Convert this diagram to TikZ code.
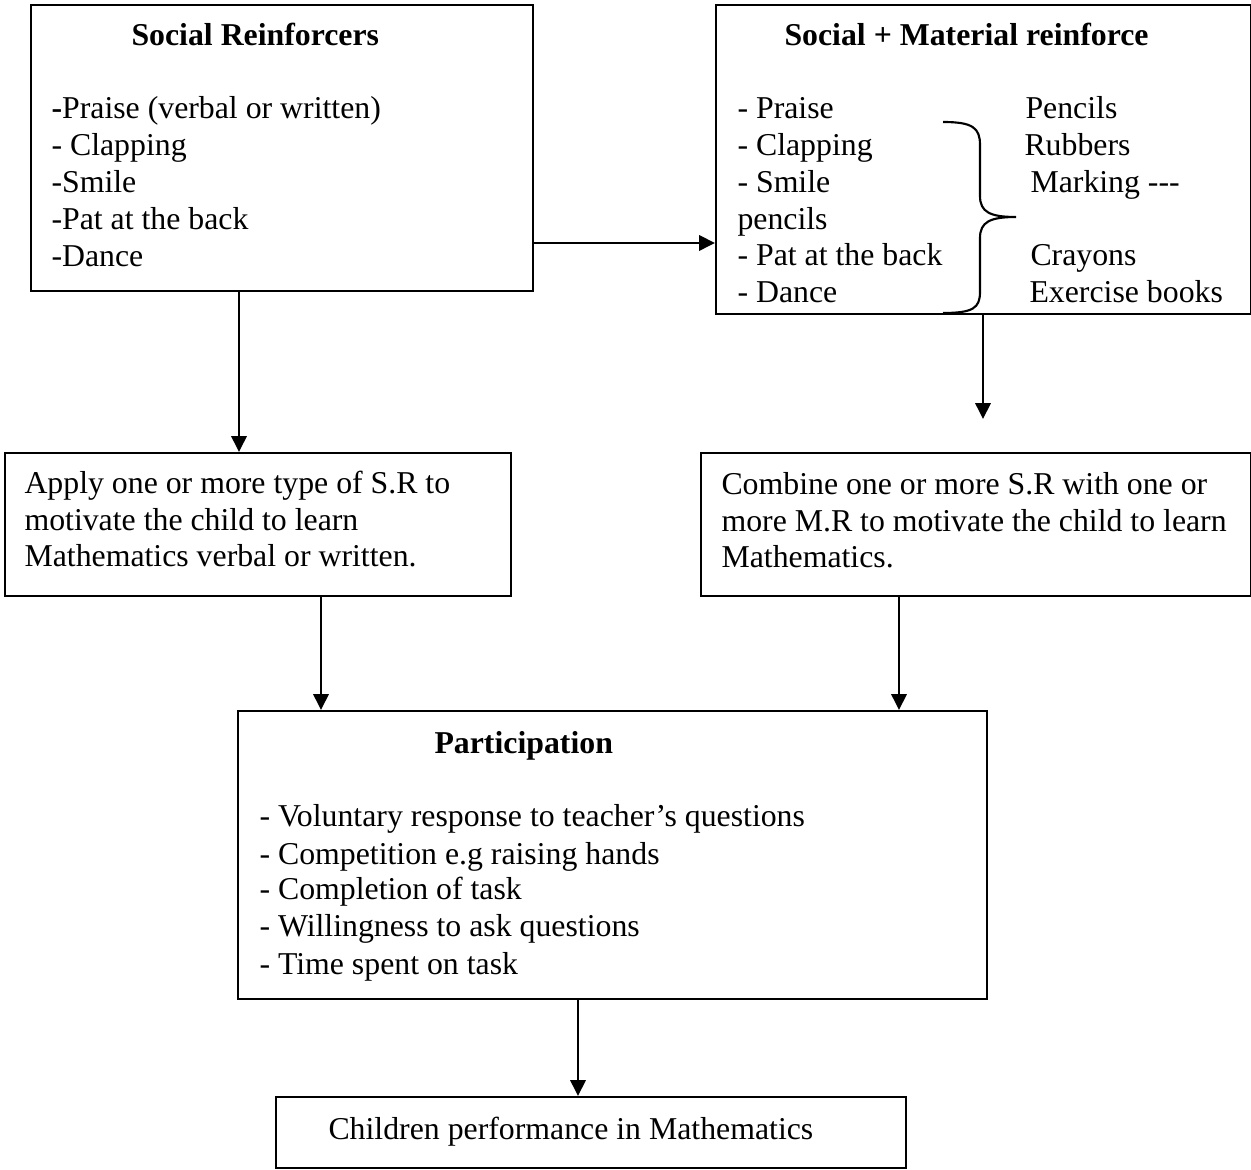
\documentclass[tikz,border=0pt]{standalone}
\usepackage{fontspec}
\setmainfont{Liberation Serif}
\usetikzlibrary{arrows.meta,calc}
\begin{document}
\begin{tikzpicture}[x=0.3774pt,y=-0.3774pt,
  box/.style={draw, line width=0.8pt, inner sep=0pt, anchor=north west},
  txt/.style={anchor=base west, inner sep=0pt, yshift={-2*0.3774pt}, font=\fontsize{12pt}{14pt}\selectfont},
  ttl/.style={txt, font=\fontsize{12pt}{14pt}\selectfont\bfseries},
  arr/.style={line width=0.8pt, -{Triangle[length=6pt,width=5.8pt]}},
  brace/.style={line width=0.8pt}]
\useasboundingbox (0,0) rectangle (1251,1170);
% boxes
\node[box, minimum width={502*0.3774pt}, minimum height={286*0.3774pt}] (b1) at (30,4) {};
\node[box, minimum width={535*0.3774pt}, minimum height={309*0.3774pt}] (b2) at (715,4) {};
\node[box, minimum width={506*0.3774pt}, minimum height={143*0.3774pt}] (b3) at (4,452) {};
\node[box, minimum width={550*0.3774pt}, minimum height={143*0.3774pt}] (b4) at (700,452) {};
\node[box, minimum width={749*0.3774pt}, minimum height={288*0.3774pt}] (b5) at (237,710) {};
\node[box, minimum width={630*0.3774pt}, minimum height={71*0.3774pt}] (b6) at (275,1096) {};
% box 1 text
\node[ttl] (t1) at (131,44) {Social Reinforcers};
\node[txt] (t1a) at (51,117) {\textbf{-}Praise (verbal or written)};
\node[txt] (t1b) at (51,154) {- Clapping};
\node[txt] (t1c) at (51,191) {-Smile};
\node[txt] (t1d) at (51,228) {-Pat at the back};
\node[txt] (t1e) at (51,265) {-Dance};
% box 2 text
\node[ttl] (t2) at (784,44) {Social + Material reinforce};
\node[txt] (t2a) at (737,117) {- Praise};
\node[txt] (t2b) at (737,154) {- Clapping};
\node[txt] (t2c) at (737,191) {- Smile};
\node[txt] (t2d) at (737,228) {pencils};
\node[txt] (t2e) at (737,264) {- Pat at the back};
\node[txt] (t2f) at (737,301) {- Dance};
\node[txt] (t2g) at (1025,117) {Pencils};
\node[txt] (t2h) at (1024,154) {Rubbers};
\node[txt] (t2i) at (1030,191) {Marking {-}{-}{-}};
\node[txt] (t2j) at (1030,264) {Crayons};
\node[txt] (t2k) at (1029,301) {Exercise books};
% brace
\draw[brace] (943,122) .. controls (973,122) and (980,128) .. (980,145)
  -- (980,196) .. controls (980,212) and (990,217) .. (1016,217)
  .. controls (990,217) and (980,222) .. (980,238)
  -- (980,292) .. controls (980,308) and (973,313) .. (943,313);
% box 3 text
\node[txt] (t3a) at (24,492) {Apply one or more type of S.R to};
\node[txt] (t3b) at (24,529) {motivate the child to learn};
\node[txt] (t3c) at (24,565) {Mathematics verbal or written.};
% box 4 text
\node[txt] (t4a) at (721,493) {Combine one or more S.R with one or};
\node[txt] (t4b) at (721,530) {more M.R to motivate the child to learn};
\node[txt] (t4c) at (721,566) {Mathematics.};
% box 5 text
\node[ttl] (t5) at (434,752) {Participation};
\node[txt] (t5a) at (259,825) {- Voluntary response to teacher’s questions};
\node[txt] (t5b) at (259,862) {- Competition e.g raising hands};
\node[txt] (t5c) at (259,898) {- Completion of task};
\node[txt] (t5d) at (259,935) {- Willingness to ask questions};
\node[txt] (t5e) at (259,972) {- Time spent on task};
% box 6 text
\node[txt] (t6) at (328,1137) {Children performance in Mathematics};
% connectors
\coordinate (e2) at (983,419);
\draw[arr] (b1.east |- 0,243) -- (b2.west |- 0,243);
\draw[arr] (b1.south -| 239,0) -- (b3.north -| 239,0);
\draw[arr] (b2.south -| e2) -- (e2);
\draw[arr] (b3.south -| 321,0) -- (b5.north -| 321,0);
\draw[arr] (b4.south -| 899,0) -- (b5.north -| 899,0);
\draw[arr] (b5.south -| 578,0) -- (b6.north -| 578,0);
\end{tikzpicture}
\end{document}
